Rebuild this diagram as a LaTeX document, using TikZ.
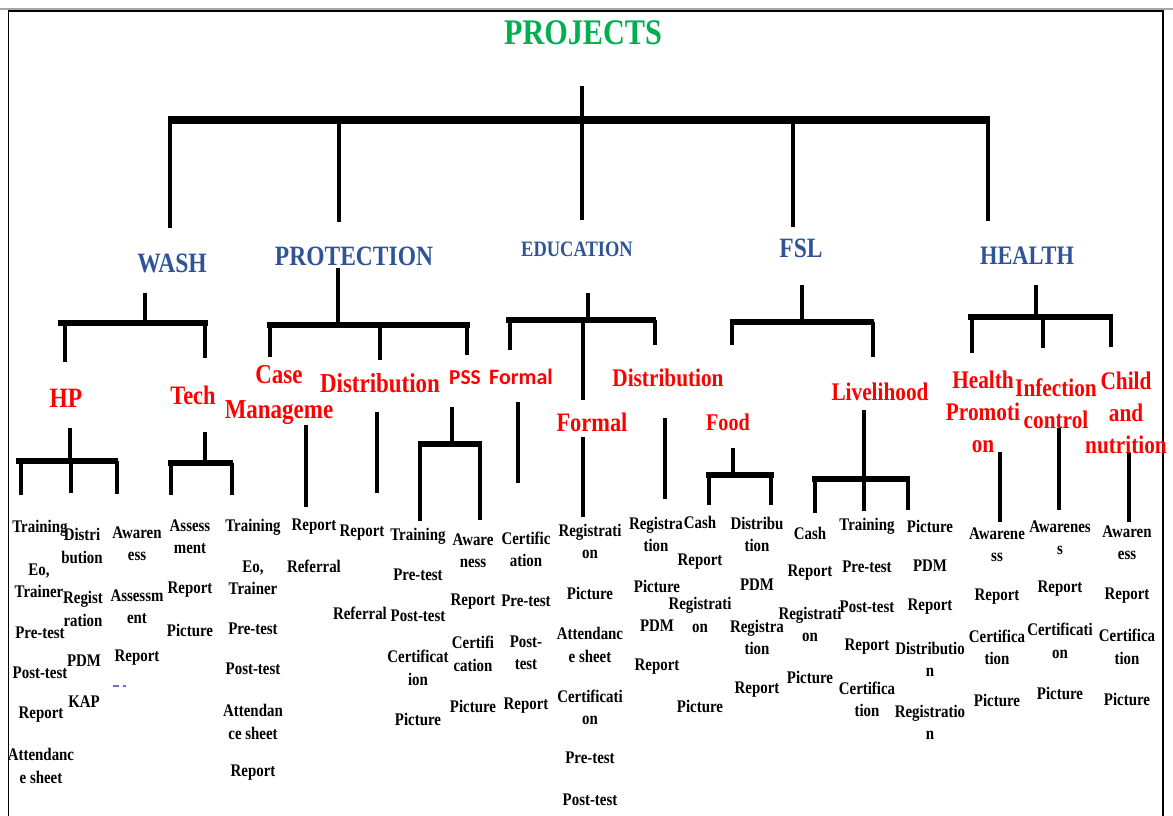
\documentclass[tikz,border=0pt]{standalone}
\usepackage{fontspec}
\setmainfont{Liberation Serif}
\newfontfamily\tnr{Liberation Serif}[FakeStretch=0.84]
\newfontfamily\carlito{Carlito}
\definecolor{projgreen}{RGB}{0,176,80}
\definecolor{secblue}{RGB}{47,84,150}
\definecolor{subred}{RGB}{255,0,0}
\definecolor{markviolet}{RGB}{140,90,210}
\tikzset{
  prjtitle/.style={text=projgreen, font=\tnr\bfseries\fontsize{27}{30}\selectfont, inner sep=0pt},
  sec/.style={text=secblue, font=\tnr\bfseries\fontsize{21}{24}\selectfont, inner sep=0pt},
  sub/.style={text=subred, font=\tnr\bfseries\fontsize{20}{24}\selectfont, align=center, inner sep=0pt},
  subsans/.style={text=subred, font=\carlito\bfseries\fontsize{16.5}{19}\selectfont, inner sep=0pt},
  leaf/.style={font=\tnr\bfseries\fontsize{13.3}{16.8}\selectfont, align=center, inner sep=0pt},
  mainbar/.style={line width=6.5pt},
  mainleg/.style={line width=3pt},
  bar/.style={line width=5.2pt},
  leg/.style={line width=3.6pt},
}
\begin{document}
\begin{tikzpicture}[x=0.75pt,y=-0.75pt]
\useasboundingbox (0,0) rectangle (1173,816);
\fill[white] (0,0) rectangle (1173,816);

% page frame
\draw[black!35, line width=1pt] (0,9) -- (1173,9);
\draw[line width=1.1pt] (8.5,816) -- (8.5,11) -- (1163,11) -- (1163,816);

% ---------- headings ----------
\node[prjtitle] (projects) at (583,33) {PROJECTS};
\node[sec] (wash) at (172,263) {WASH};
\node[sec] (protection) at (354,256) {PROTECTION};
\node[sec, font=\tnr\bfseries\fontsize{16.5}{20}\selectfont] (education) at (577,249) {EDUCATION};
\node[sec] (fsl) at (801,248) {FSL};
\node[sec, font=\tnr\bfseries\fontsize{20}{24}\selectfont] (health) at (1027,256) {HEALTH};

% ---------- sub-projects ----------
\node[sub, font=\tnr\bfseries\fontsize{21}{24}\selectfont] (hp) at (66,398) {HP};
\node[sub] (tech) at (193,395) {Tech};
\node[sub, font=\tnr\bfseries\fontsize{20.5}{26}\selectfont] (casem) at (279,395) {Case\\Manageme};
\node[sub, font=\tnr\bfseries\fontsize{20.5}{24}\selectfont] (pdist) at (380,383) {Distribution};
\node[subsans, font=\carlito\bfseries\fontsize{16}{19}\selectfont] (pss) at (465,378) {PSS};
\node[subsans] (formalA) at (521,377) {Formal};
\node[sub, font=\tnr\bfseries\fontsize{19}{24}\selectfont] (edist) at (668,378) {Distribution};
\node[sub] (formalB) at (592,422) {Formal};
\node[sub, font=\tnr\bfseries\fontsize{18}{24}\selectfont] (food) at (728,422) {Food};
\node[sub, font=\tnr\bfseries\fontsize{19}{24}\selectfont] (livelihood) at (880,392) {Livelihood};
\node[sub, font=\tnr\bfseries\fontsize{19}{24}\selectfont] (hpromo) at (983,411.5) {Health\\Promoti\\on};
\node[sub, font=\tnr\bfseries\fontsize{19}{24}\selectfont] (infection) at (1056,403.5) {Infection\\control};
\node[sub, font=\tnr\bfseries\fontsize{19}{24}\selectfont] (child) at (1126,412.5) {Child\\and\\nutrition};

% ---------- top level tree ----------
\coordinate (rootTop) at (582,86);
\coordinate (rootL) at (168,120);
\coordinate (rootR) at (990,120);
\coordinate (washIn) at (170,228);
\coordinate (protIn) at (339,222);
\coordinate (eduIn) at (582,220);
\coordinate (fslIn) at (793,227);
\coordinate (healthIn) at (988,221);
\draw[mainbar] (rootL) -- (rootR);
\draw[mainleg] (rootTop) -- (eduIn);
\foreach \c in {washIn,protIn,fslIn,healthIn}
  \draw[mainleg] (\c |- rootL) -- (\c);

% ---------- WASH ----------
\coordinate (washStem) at (145,293);
\coordinate (washL) at (58,323);
\coordinate (washR) at (208,323);
\coordinate (hpIn) at (65,362);
\coordinate (techIn) at (205,358);
\draw[leg] (washStem) -- (washStem |- washL);
\draw[bar] (washL) -- (washR);
\foreach \c in {hpIn,techIn} \draw[leg] (\c |- washL) -- (\c);

% ---------- PROTECTION ----------
\coordinate (protStem) at (338,268);
\coordinate (protL) at (267,325);
\coordinate (protR) at (470,325);
\coordinate (cmIn) at (270,357);
\coordinate (pdIn) at (380,360);
\coordinate (pssIn) at (467,355);
\draw[leg] (protStem) -- (protStem |- protL);
\draw[bar] (protL) -- (protR);
\foreach \c in {cmIn,pdIn,pssIn} \draw[leg] (\c |- protL) -- (\c);

% ---------- EDUCATION ----------
\coordinate (eduStem) at (588,293);
\coordinate (eduL) at (506,320);
\coordinate (eduR) at (656,320);
\coordinate (faIn) at (510,350);
\coordinate (edIn) at (655,345);
\coordinate (fbIn) at (583,400);
\draw[leg] (eduStem) -- (eduStem |- eduL);
\draw[bar] (eduL) -- (eduR);
\foreach \c in {faIn,edIn,fbIn} \draw[leg] (\c |- eduL) -- (\c);

% ---------- FSL ----------
\coordinate (fslStem) at (802,285);
\coordinate (fslL) at (730,322);
\coordinate (fslR) at (874,322);
\coordinate (foodIn) at (732,345);
\coordinate (livIn) at (873,357);
\draw[leg] (fslStem) -- (fslStem |- fslL);
\draw[bar] (fslL) -- (fslR);
\foreach \c in {foodIn,livIn} \draw[leg] (\c |- fslL) -- (\c);

% ---------- HEALTH ----------
\coordinate (hlStem) at (1036,285);
\coordinate (hlL) at (968,317);
\coordinate (hlR) at (1113,317);
\coordinate (hmIn) at (972,353);
\coordinate (icIn) at (1043,348);
\coordinate (chIn) at (1111,347);
\draw[leg] (hlStem) -- (hlStem |- hlL);
\draw[bar] (hlL) -- (hlR);
\foreach \c in {hmIn,icIn,chIn} \draw[leg] (\c |- hlL) -- (\c);

% ---------- second level branches ----------
% HP
\coordinate (hpStem) at (70,428);
\coordinate (hpL) at (16,461);
\coordinate (hpR) at (118,461);
\draw[leg] (hpStem) -- (hpStem |- hpL);
\draw[bar] (hpL) -- (hpR);
\foreach \c/\y in {21/495,71/493,117/494}
  \draw[leg] (\c,461) -- (\c,\y);
% Tech
\coordinate (tcStem) at (205,432);
\coordinate (tcL) at (168,463);
\coordinate (tcR) at (233,463);
\draw[leg] (tcStem) -- (tcStem |- tcL);
\draw[bar] (tcL) -- (tcR);
\foreach \c in {171,232} \draw[leg] (\c,463) -- (\c,495);
% Case management, distribution
\coordinate (cmTop) at (306,425); \coordinate (cmBot) at (306,507);
\draw[leg] (cmTop) -- (cmBot);
\coordinate (pdTop) at (377,412); \coordinate (pdBot) at (377,493);
\draw[leg] (pdTop) -- (pdBot);
% PSS
\coordinate (psStem) at (452,407);
\coordinate (psL) at (418,444);
\coordinate (psR) at (482,444);
\draw[leg] (psStem) -- (psStem |- psL);
\draw[bar] (psL) -- (psR);
\draw[leg] (420,444) -- (420,521);
\draw[leg] (480,444) -- (480,520);
% Formal, Formal, Distribution (education)
\coordinate (faTop) at (518,402); \coordinate (faBot) at (518,483);
\draw[leg] (faTop) -- (faBot);
\coordinate (fbTop) at (583,437); \coordinate (fbBot) at (583,517);
\draw[leg] (fbTop) -- (fbBot);
\coordinate (edTop) at (665,418); \coordinate (edBot) at (665,499);
\draw[leg] (edTop) -- (edBot);
% Food
\coordinate (fdStem) at (733,448);
\coordinate (fdL) at (706,475);
\coordinate (fdR) at (774,475);
\draw[leg] (fdStem) -- (fdStem |- fdL);
\draw[bar] (fdL) -- (fdR);
\foreach \c in {709,771} \draw[leg] (\c,475) -- (\c,505);
% Livelihood
\coordinate (lvStem) at (864,410);
\coordinate (lvL) at (812,479);
\coordinate (lvR) at (910,479);
\draw[leg] (lvStem) -- (lvStem |- lvL);
\draw[bar] (lvL) -- (lvR);
\foreach \c/\y in {815/513,864/511,908/510} \draw[leg] (\c,479) -- (\c,\y);
% Health branches
\coordinate (hmTop) at (1000,452); \coordinate (hmBot) at (1000,522);
\draw[leg] (hmTop) -- (hmBot);
\coordinate (icTop) at (1059,428); \coordinate (icBot) at (1059,510);
\draw[leg] (icTop) -- (icBot);
\coordinate (chTop) at (1129,453); \coordinate (chBot) at (1129,522);
\draw[leg] (chTop) -- (chBot);

% ---------- activities ----------
% HP
\node[leaf] (hpA1) at (40,528) {Training};
\node[leaf] (hpA2) at (39,581) {Eo,\\Trainer};
\node[leaf] (hpA3) at (40,633) {Pre-test};
\node[leaf] (hpA4) at (40,673) {Post-test};
\node[leaf] (hpA5) at (41,715) {Report};
\node[leaf] (hpA6) at (41,766) {Attendanc\\e sheet};
\node[leaf] (hpB1) at (82,546) {Distri\\bution};
\node[leaf] (hpB2) at (83,609) {Regist\\ration};
\node[leaf] (hpB3) at (84,661) {PDM};
\node[leaf] (hpB4) at (84,702) {KAP};
\node[leaf] (hpC1) at (137,544) {Awaren\\ess};
\node[leaf] (hpC2) at (137,607) {Assessm\\ent};
\node[leaf] (hpC3) at (137,658) {Report};
\draw[markviolet, line width=0.8pt] (113,686) -- (119,686) (123,686) -- (126,686);
% Tech
\node[leaf] (tcA1) at (190,537) {Assess\\ment};
\node[leaf] (tcA2) at (190,590) {Report};
\node[leaf] (tcA3) at (190,630) {Picture};
\node[leaf] (tcB1) at (253,527) {Training};
\node[leaf] (tcB2) at (253,578) {Eo,\\Trainer};
\node[leaf] (tcB3) at (253,629) {Pre-test};
\node[leaf] (tcB4) at (253,669) {Post-test};
\node[leaf] (tcB5) at (253,722) {Attendan\\ce sheet};
\node[leaf] (tcB6) at (253,773) {Report};
% Case management
\node[leaf] (cmA1) at (314,527) {Report};
\node[leaf] (cmA2) at (314,566) {Referral};
% Distribution (protection)
\node[leaf] (pdA1) at (362,533) {Report};
\node[leaf] (pdA2) at (360,613) {Referral};
% PSS
\node[leaf] (psA1) at (418,536) {Training};
\node[leaf] (psA2) at (418,575) {Pre-test};
\node[leaf] (psA3) at (418,616) {Post-test};
\node[leaf] (psA4) at (418,668) {Certificat\\ion};
\node[leaf] (psA5) at (418,719) {Picture};
\node[leaf] (psB1) at (473,551) {Aware\\ness};
\node[leaf] (psB2) at (473,602) {Report};
\node[leaf] (psB3) at (473,654) {Certifi\\cation};
\node[leaf] (psB4) at (473,706) {Picture};
% Formal (first)
\node[leaf] (faA1) at (526,549.5) {Certific\\ation};
\node[leaf] (faA2) at (526,601) {Pre-test};
\node[leaf] (faA3) at (526,653) {Post-\\test};
\node[leaf] (faA4) at (526,706) {Report};
% Formal (second)
\node[leaf] (fbA1) at (590,541.5) {Registrati\\on};
\node[leaf] (fbA2) at (590,593) {Picture};
\node[leaf] (fbA3) at (590,645) {Attendanc\\e sheet};
\node[leaf] (fbA4) at (590,707.5) {Certificati\\on};
\node[leaf] (fbA5) at (590,758) {Pre-test};
\node[leaf] (fbA6) at (590,800) {Post-test};
% Distribution (education)
\node[leaf] (edA1) at (656,534.5) {Registra\\tion};
\node[leaf] (edA2) at (657,586) {Picture};
\node[leaf] (edA3) at (657,626) {PDM};
\node[leaf] (edA4) at (657,667) {Report};
% Food
\node[leaf] (fcA1) at (700,522) {Cash};
\node[leaf] (fcA2) at (700,562) {Report};
\node[leaf] (fcA3) at (700,615) {Registrati\\on};
\node[leaf] (fcA4) at (700,706) {Picture};
\node[leaf] (fdA1) at (757,534.5) {Distribu\\tion};
\node[leaf] (fdA2) at (757,585) {PDM};
\node[leaf] (fdA3) at (757,637.5) {Registra\\tion};
\node[leaf] (fdA4) at (757,690) {Report};
% Livelihood
\node[leaf] (lcA1) at (810,533) {Cash};
\node[leaf] (lcA2) at (810,573) {Report};
\node[leaf] (lcA3) at (810,624.5) {Registrati\\on};
\node[leaf] (lcA4) at (810,677) {Picture};
\node[leaf] (ltA1) at (867,526) {Training};
\node[leaf] (ltA2) at (867,567) {Pre-test};
\node[leaf] (ltA3) at (867,607) {Post-test};
\node[leaf] (ltA4) at (867,647) {Report};
\node[leaf] (ltA5) at (867,699.5) {Certifica\\tion};
\node[leaf] (lpA1) at (930,526) {Picture};
\node[leaf] (lpA2) at (930,566) {PDM};
\node[leaf] (lpA3) at (930,607) {Report};
\node[leaf] (lpA4) at (930,659.5) {Distributio\\n};
\node[leaf] (lpA5) at (930,722.5) {Registratio\\n};
% Health promotion
\node[leaf] (hmA1) at (997,544.5) {Awarene\\ss};
\node[leaf] (hmA2) at (997,597) {Report};
\node[leaf] (hmA3) at (997,647.5) {Certifica\\tion};
\node[leaf] (hmA4) at (997,700) {Picture};
% Infection control
\node[leaf] (icA1) at (1060,537.5) {Awarenes\\s};
\node[leaf] (icA2) at (1060,589) {Report};
\node[leaf] (icA3) at (1060,641) {Certificati\\on};
\node[leaf] (icA4) at (1060,693) {Picture};
% Child and nutrition
\node[leaf] (chA1) at (1127,543) {Awaren\\ess};
\node[leaf] (chA2) at (1127,596) {Report};
\node[leaf] (chA3) at (1127,647) {Certifica\\tion};
\node[leaf] (chA4) at (1127,699) {Picture};
\end{tikzpicture}
\end{document}
